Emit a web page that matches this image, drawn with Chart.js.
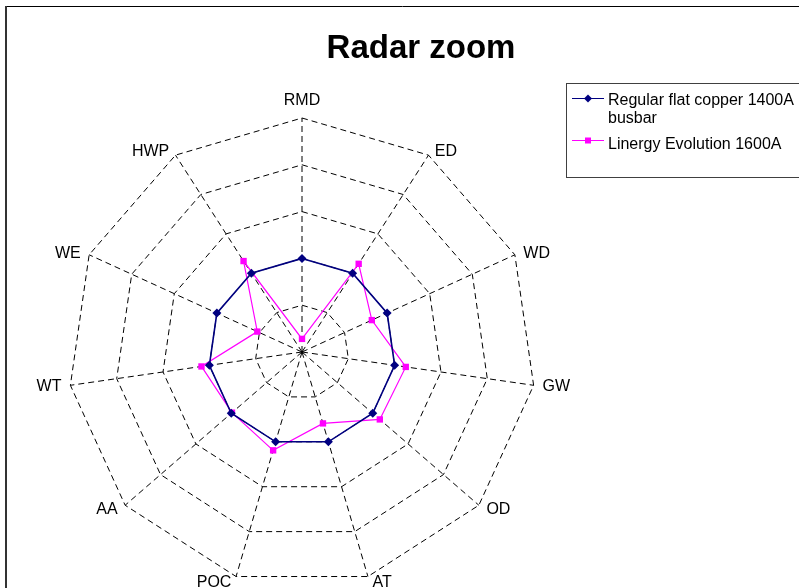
<!DOCTYPE html>
<html>
<head>
<meta charset="utf-8">
<title>Radar zoom</title>
<script src="https://cdn.jsdelivr.net/npm/chart.js@4.4.1/dist/chart.umd.min.js"></script>
<style>
    html, body { margin: 0; padding: 0; background: #fff; }
    #wrap { width: 799px; height: 588px; position: relative; }
</style>
</head>
<body>
<div id="wrap"><canvas id="radarChart"></canvas></div>
<script>
// Categories, clockwise from the top
const categories = ['RMD', 'ED', 'WD', 'GW', 'OD', 'AT', 'POC', 'AA', 'WT', 'WE', 'HWP'];

// Series values (one ring = 1)
const regularBusbar = [2, 2, 2, 2, 2, 2, 2, 2, 2, 2, 2];
const linergyEvolution = [0.28, 2.24, 1.64, 2.24, 2.2, 1.59, 2.19, 1.98, 2.17, 1.05, 2.31];

const seriesNames = [['Regular flat copper 1400A', 'busbar'], ['Linergy Evolution 1600A']];
const scaleMax = 5;
const chartTitle = 'Radar zoom';

const NAVY = '#000080';
const MAGENTA = '#FF00FF';
const FONT = '"Liberation Sans", Arial, sans-serif';

// Frame, title, axis labels and legend, drawn Excel-style
const excelDecor = {
    id: 'excelDecor',
    afterDraw(chart) {
        const ctx = chart.ctx;
        const r = chart.scales.r;
        ctx.save();

        // Outer frame (only top and left edges are visible)
        ctx.strokeStyle = '#000';
        ctx.lineWidth = 1;
        ctx.beginPath();
        ctx.moveTo(6, 6.5);
        ctx.lineTo(chart.width, 6.5);
        ctx.stroke();
        ctx.strokeStyle = '#333';
        ctx.lineWidth = 2;
        ctx.beginPath();
        ctx.moveTo(6, 6);
        ctx.lineTo(6, chart.height);
        ctx.stroke();

        // Title
        ctx.fillStyle = '#000';
        ctx.font = 'bold 33px ' + FONT;
        ctx.textAlign = 'center';
        ctx.textBaseline = 'alphabetic';
        ctx.fillText(chartTitle, 421, 58);

        // Axis labels
        ctx.font = '16px ' + FONT;
        ctx.textBaseline = 'middle';
        categories.forEach((label, i) => {
            const p = r.getPointPosition(i, r.drawingArea);
            const a = r.getIndexAngle(i);
            const s = Math.sin(a), c = Math.cos(a);
            if (Math.abs(s) < 0.01) {
                ctx.textAlign = 'center';
                ctx.fillText(label, p.x, p.y - 17);
                return;
            }
            const dx = 3 + 6 * Math.abs(s);
            ctx.textAlign = s > 0 ? 'left' : 'right';
            ctx.fillText(label, p.x + (s > 0 ? dx : -dx), p.y - 5 * c + 1);
        });

        // Legend box
        ctx.strokeStyle = '#404040';
        ctx.lineWidth = 1;
        ctx.strokeRect(566.5, 83.5, 260, 94);

        ctx.textAlign = 'left';
        // Entry 1: navy line with diamond
        ctx.strokeStyle = NAVY;
        ctx.fillStyle = NAVY;
        ctx.beginPath();
        ctx.moveTo(572, 98.5);
        ctx.lineTo(604, 98.5);
        ctx.stroke();
        ctx.beginPath();
        ctx.moveTo(588, 94.5);
        ctx.lineTo(592, 98.5);
        ctx.lineTo(588, 102.5);
        ctx.lineTo(584, 98.5);
        ctx.closePath();
        ctx.fill();
        ctx.fillStyle = '#000';
        ctx.fillText(seriesNames[0][0], 608, 101);
        ctx.fillText(seriesNames[0][1], 608, 119);

        // Entry 2: magenta line with square
        ctx.strokeStyle = MAGENTA;
        ctx.fillStyle = MAGENTA;
        ctx.beginPath();
        ctx.moveTo(572, 140.5);
        ctx.lineTo(604, 140.5);
        ctx.stroke();
        ctx.fillRect(585, 137.5, 6, 6);
        ctx.fillStyle = '#000';
        ctx.fillText(seriesNames[1][0], 608, 145);

        ctx.restore();
    }
};

const radarChart = new Chart(document.getElementById('radarChart'), {
    type: 'radar',
    data: {
        labels: categories,
        datasets: [{
            label: seriesNames[0].join(' '),
            data: regularBusbar,
            borderColor: NAVY,
            backgroundColor: NAVY,
            borderWidth: 1.6,
            pointStyle: 'rectRot',
            pointRadius: 4.5,
            pointBorderWidth: 0,
            pointBackgroundColor: NAVY,
            fill: false
        }, {
            label: seriesNames[1][0],
            data: linergyEvolution,
            borderColor: MAGENTA,
            backgroundColor: MAGENTA,
            borderWidth: 1.2,
            pointStyle: 'rect',
            pointRadius: 4.5,
            pointBorderWidth: 0,
            pointBackgroundColor: MAGENTA,
            fill: false
        }]
    },
    options: {
        responsive: true,
        maintainAspectRatio: false,
        animation: false,
        elements: { line: { tension: 0 } },
        layout: { padding: { left: 68, top: 118, right: 263, bottom: 2 } },
        plugins: {
            legend: { display: false },
            title: { display: false },
            tooltip: { enabled: false }
        },
        scales: {
            r: {
                min: 0,
                max: scaleMax,
                ticks: { display: false, stepSize: 1 },
                pointLabels: { display: false },
                grid: { color: '#000', lineWidth: 1 },
                border: { dash: [6, 4] },
                angleLines: { color: '#000', lineWidth: 1, borderDash: [6, 4] }
            }
        }
    },
    plugins: [excelDecor]
});
</script>
</body>
</html>
